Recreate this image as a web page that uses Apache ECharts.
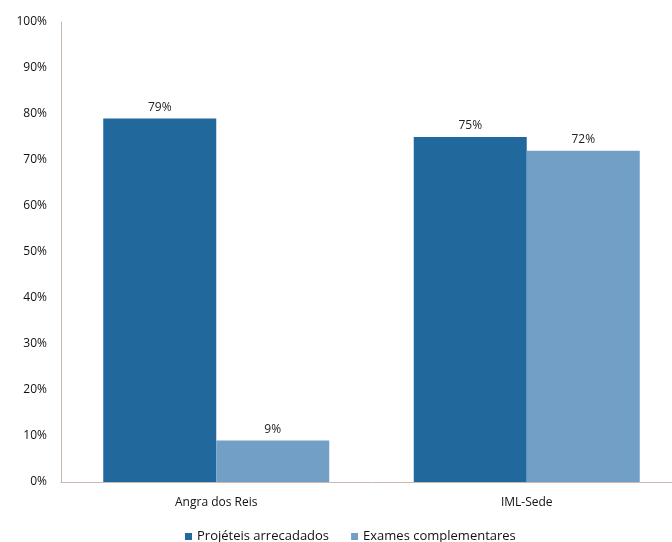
<!DOCTYPE html>
<html><head><meta charset="utf-8">
<script src="https://cdn.jsdelivr.net/npm/echarts@6/dist/echarts.min.js"></script>
<style>html,body{margin:0;padding:0;background:#fff;overflow:hidden}#c{width:690px;height:542px}</style>
</head><body><div id="c"></div>
<script>
const categories = ['Angra dos Reis', 'IML-Sede'];
const seriesNames = ['Projéteis arrecadados', 'Exames complementares'];
const projeteis = [79, 75];
const exames = [9, 72];
const yTicks = [0, 10, 20, 30, 40, 50, 60, 70, 80, 90, 100];

const chart = echarts.init(document.getElementById('c'), null, {renderer: 'canvas'});
const font = '"Open Sans", sans-serif';
const lbl = {show: true, position: 'top', formatter: '{c}%', color: '#222', fontSize: 12, fontFamily: font, distance: 5};
chart.setOption({
  animation: false,
  grid: {left: 61, right: 8, top: 22, bottom: 60},
  legend: {
    data: seriesNames, top: 525, left: 180, itemWidth: 7, itemHeight: 7, itemGap: 22,
    icon: 'rect', textStyle: {color: '#111', fontSize: 13, fontFamily: font}
  },
  xAxis: {
    type: 'category', data: categories,
    axisLine: {lineStyle: {color: '#c9b8b0'}}, axisTick: {show: false},
    axisLabel: {color: '#111', fontSize: 12, fontFamily: font, margin: 15}
  },
  yAxis: {
    type: 'value', min: yTicks[0], max: yTicks[yTicks.length - 1], interval: 10,
    axisLine: {show: true, lineStyle: {color: '#c9b8b0'}}, axisTick: {show: false},
    splitLine: {show: false},
    axisLabel: {formatter: '{value}%', color: '#111', fontSize: 12, fontFamily: font, margin: 14}
  },
  series: [
    {name: seriesNames[0], type: 'bar', data: projeteis, barWidth: 113, barGap: '0%', itemStyle: {color: '#21699c'}, label: lbl},
    {name: seriesNames[1], type: 'bar', data: exames, barWidth: 113, barGap: '0%', itemStyle: {color: '#729fc5'}, label: lbl}
  ]
});
</script></body></html>
